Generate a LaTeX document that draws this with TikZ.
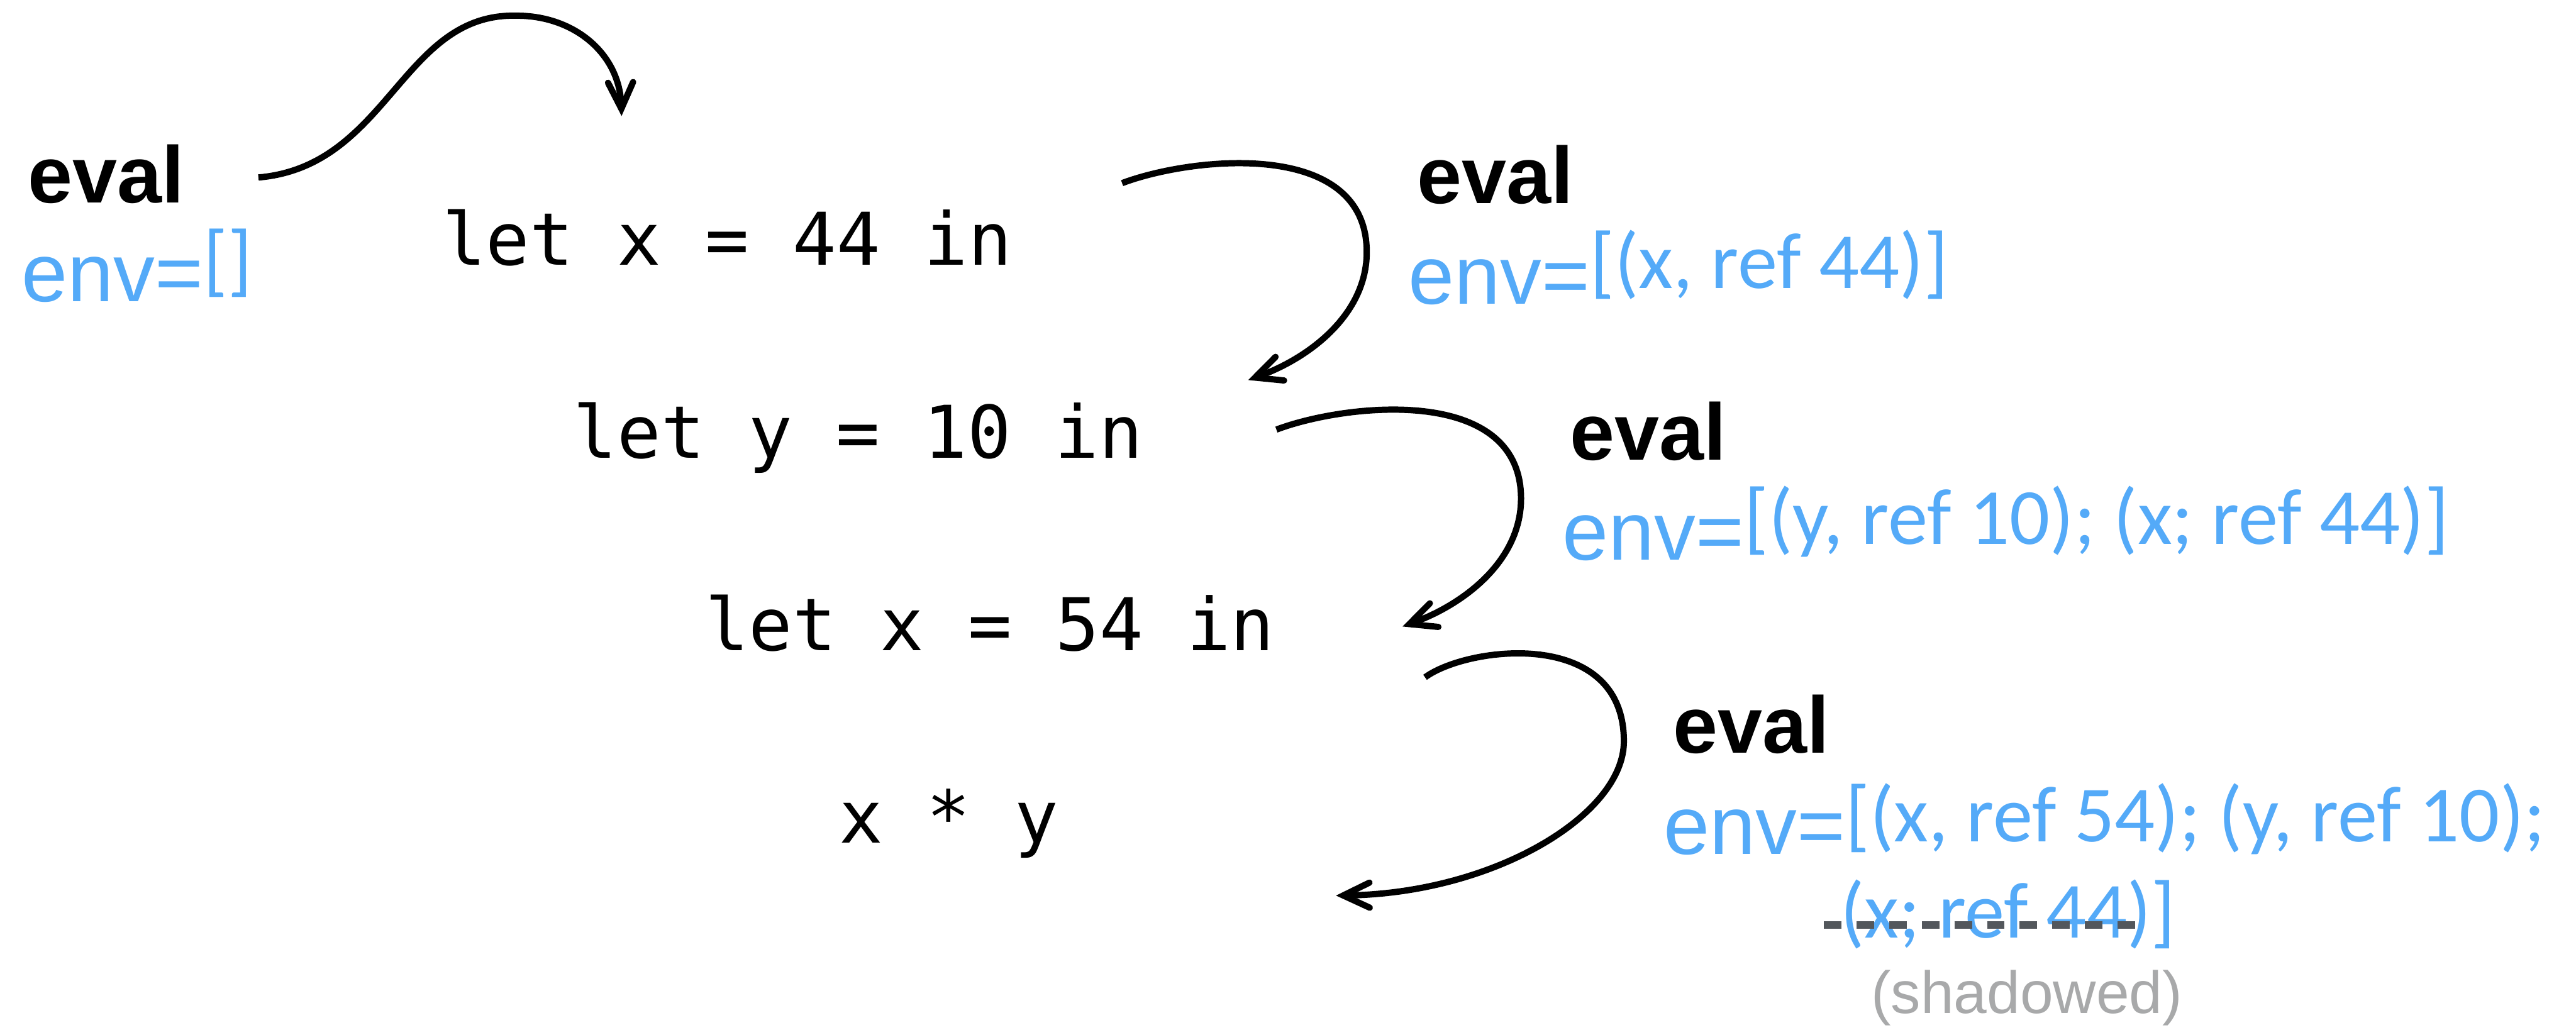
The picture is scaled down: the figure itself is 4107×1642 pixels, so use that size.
\documentclass[tikz,border=0pt]{standalone}
\usepackage{fontspec}
\setmainfont{Liberation Sans}
\newfontfamily\carlito{Carlito}
\newfontfamily\codefont{DejaVu Sans Mono}
\usetikzlibrary{arrows.meta}
\definecolor{envblue}{RGB}{84,170,248}
\definecolor{strikegray}{RGB}{83,87,92}
\definecolor{shadowgray}{RGB}{168,169,170}
\newcommand\envpart[2]{env=\raisebox{#1pt}{\fontsize{127}{150}\carlito #2}}
\begin{document}
\begin{tikzpicture}[x=1pt,y=-1pt,
  evallbl/.style={anchor=base west, inner sep=0pt, font=\fontsize{128}{150}\selectfont\bfseries},
  envlbl/.style={anchor=base west, inner sep=0pt, text=envblue, font=\fontsize{132}{150}\selectfont},
  envcont/.style={anchor=base west, inner sep=0pt, text=envblue, font=\fontsize{127}{150}\carlito},
  codeline/.style={anchor=base west, inner sep=0pt, font=\fontsize{116}{140}\codefont},
  shadowlbl/.style={anchor=base west, inner sep=0pt, text=shadowgray, font=\fontsize{95}{110}\selectfont},
  flow/.style={line width=10pt, -{Straight Barb[length=42pt,width=40pt,line cap=round,line join=miter]}},
  strike/.style={line width=12pt, draw=strikegray, dash pattern=on 28pt off 24pt},
]
\useasboundingbox (0,0) rectangle (4107,1642);

% code lines
\node[codeline] (code1) at (705,423)  {let x = 44 in};
\node[codeline] (code2) at (914,730)  {let y = 10 in};
\node[codeline] (code3) at (1124,1037) {let x = 54 in};
\node[codeline] (code4) at (1338,1344) {x * y};

% eval labels
\node[evallbl] (eval1) at (44,323)   {eval};
\node[evallbl] (eval2) at (2259,324) {eval};
\node[evallbl] (eval3) at (2503,733) {eval};
\node[evallbl] (eval4) at (2667,1201) {eval};

% environments
\node[envlbl] (env1) at (34,481)    {\envpart{24}{[]}};
\node[envlbl] (env2) at (2245,485)  {\envpart{25}{[(x, ref 44)]}};
\node[envlbl] (env3) at (2491,893)  {\envpart{25}{[(y, ref 10); (x; ref 44)]}};
\node[envlbl] (env4) at (2652,1362) {\envpart{20}{[(x, ref 54); (y, ref 10);}};
\node[envcont] (env4b) at (2934,1495) {(x; ref 44)]};
\node[shadowlbl] (shadow) at (2983,1616) {(shadowed)};

% strike-through of the shadowed binding
\coordinate (strikeL) at (2908,1475);
\coordinate (strikeR) at (3417,1475);
\draw[strike] (strikeL) -- (strikeR);

% connector end points
\coordinate (a1s) at (412,283);
\coordinate (a1e) at (991,185);
\coordinate (a2s) at (1789,292);
\coordinate (a2e) at (1990,606);
\coordinate (a3s) at (2035,685);
\coordinate (a3e) at (2236,999);
\coordinate (a4s) at (2272,1080);
\coordinate (a4e) at (2130,1428);

\draw[flow] (a1s) .. controls (620,265) and (640,20) .. (824,25)
            .. controls (915,25) and (988,85) .. (a1e);
\draw[flow] (a2s) .. controls (1900,250) and (2179,220) .. (2179,402)
            .. controls (2179,500) and (2090,570) .. (a2e);
\draw[flow] (a3s) .. controls (2146,643) and (2425,613) .. (2425,795)
            .. controls (2425,893) and (2336,963) .. (a3e);
\draw[flow] (a4s) .. controls (2340,1030) and (2589,1000) .. (2589,1182)
            .. controls (2589,1300) and (2380,1425) .. (a4e);
\end{tikzpicture}
\end{document}
